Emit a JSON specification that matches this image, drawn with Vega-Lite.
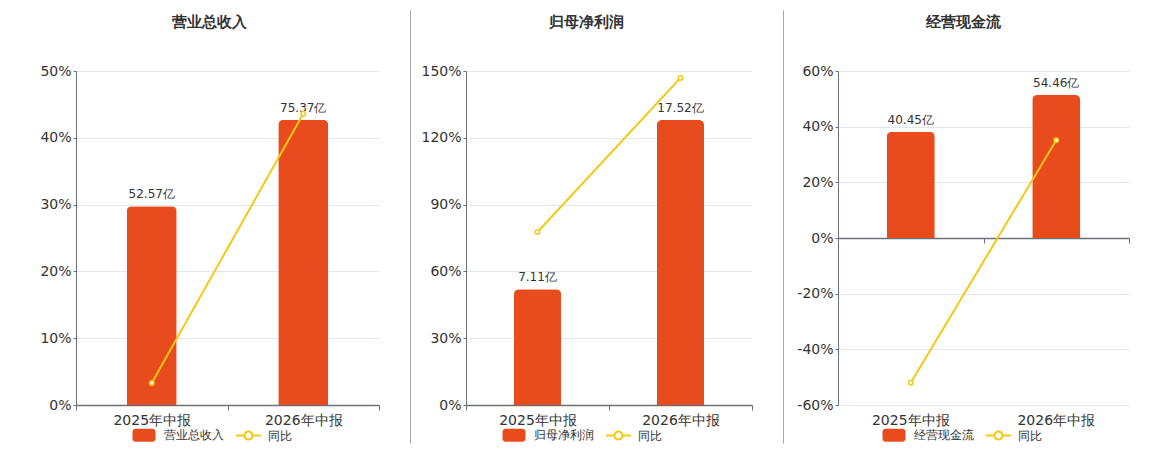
{
  "$schema": "https://vega.github.io/schema/vega-lite/v6.json",
  "padding": {"left": 39, "top": 10, "right": 0, "bottom": 0},
  "spacing": 0,
  "config": {
    "font": "DejaVu Sans",
    "view": {"stroke": null},
    "axis": {"labelFont": "DejaVu Sans", "labelFontSize": 14, "labelColor": "#333333", "titleFont": "DejaVu Sans"},
    "legend": {"labelFont": "DejaVu Sans", "labelFontSize": 12, "labelColor": "#333333"},
    "title": {"font": "DejaVu Sans", "fontSize": 15, "fontWeight": "bold", "color": "#333333", "frame": "bounds", "anchor": "middle", "offset": 34}
  },
  "resolve": {"scale": {"color": "independent"}, "legend": {"color": "independent"}},
  "hconcat": [
    {
      "width": 303, "height": 334,
      "title": "营业总收入",
      "data": {"values": [
        {"period": "2025年中报", "value": 52.57, "label": "52.57亿", "yoy": 3.3, "series": "营业总收入"},
        {"period": "2026年中报", "value": 75.37, "label": "75.37亿", "yoy": 43.6, "series": "营业总收入"}
      ]},
      "encoding": {
        "x": {"field": "period", "type": "nominal", "sort": null, "scale": {"paddingInner": 0, "paddingOuter": 0},
          "axis": {"title": null, "labelAngle": 0, "domainColor": "#6E7079", "domainWidth": 1.5, "tickBand": "extent", "tickColor": "#6E7079", "tickSize": 5, "labelPadding": 3}}
      },
      "layer": [
        {"mark": {"type": "bar", "width": {"band": 0.33}, "cornerRadiusTopLeft": 5, "cornerRadiusTopRight": 5},
         "encoding": {
           "y": {"field": "value", "type": "quantitative", "scale": {"domain": [0, 88.3], "nice": false}, "axis": null},
           "color": {"field": "series", "type": "nominal", "scale": {"domain": ["营业总收入", "同比"], "range": ["#E84C1C", "#F3C913"]},
             "legend": {"orient": "none", "legendX": 62, "legendY": 358, "direction": "horizontal", "title": null, "padding": 0, "labelOffset": 13.5, "columnPadding": 11.5,
               "encode": {"symbols": {"update": {
                 "shape": {"signal": "datum.value === '同比' ? 'M-2.5,-0.2H-0.95V0.2H-2.5ZM0.95,-0.2H2.5V0.2H0.95ZM-1,0A1,1 0 1 1 1,0A1,1 0 1 1 -1,0ZM-0.6,0A0.6,0.6 0 1 0 0.6,0A0.6,0.6 0 1 0 -0.6,0Z' : 'M-1.7,-1.3H1.7A0.6,0.6 0 0 1 2.3,-0.7V0.7A0.6,0.6 0 0 1 1.7,1.3H-1.7A0.6,0.6 0 0 1 -2.3,0.7V-0.7A0.6,0.6 0 0 1 -1.7,-1.3Z'"},
                 "strokeWidth": {"value": 0},
                 "opacity": {"value": 1}
               }}}}}
         }},
        {"mark": {"type": "text", "baseline": "bottom", "dy": -5, "fontSize": 12, "color": "#333333"},
         "encoding": {
           "y": {"field": "value", "type": "quantitative", "scale": {"domain": [0, 88.3], "nice": false}, "axis": null},
           "text": {"field": "label"}
         }},
        {"mark": {"type": "line", "color": "#F3C913", "strokeWidth": 2},
         "encoding": {
           "y": {"field": "yoy", "type": "quantitative", "scale": {"domain": [0, 50], "nice": false},
             "axis": {"title": null, "values": [0, 10, 20, 30, 40, 50], "labelExpr": "datum.value + '%'", "grid": true, "gridColor": "#E0E6F1", "domainColor": "#6E7079", "tickSize": 3, "tickColor": "#6E7079", "labelPadding": 2}}
         }},
        {"mark": {"type": "point", "shape": "circle", "filled": true, "fill": "#ffffff", "stroke": "#F3C913", "strokeWidth": 1.5, "size": 20, "opacity": 1},
         "encoding": {
           "y": {"field": "yoy", "type": "quantitative", "scale": {"domain": [0, 50], "nice": false}, "axis": null}
         }}
      ],
      "resolve": {"scale": {"y": "independent"}}
    },
    {
      "width": 40, "height": 334,
      "data": {"values": [{"v": 0}, {"v": 1}]},
      "mark": {"type": "rule", "opacity": 0},
      "encoding": {
        "y": {"field": "v", "type": "quantitative", "scale": {"domain": [0, 1], "nice": false, "range": [372, -61]},
          "axis": {"offset": -30, "labels": false, "ticks": false, "grid": false, "title": null, "domainColor": "#A6A6A6", "domainWidth": 1}}
      }
    },
    {
      "width": 286, "height": 334,
      "title": "归母净利润",
      "data": {"values": [
        {"period": "2025年中报", "value": 7.11, "label": "7.11亿", "yoy": 77.7, "series": "归母净利润"},
        {"period": "2026年中报", "value": 17.52, "label": "17.52亿", "yoy": 146.9, "series": "归母净利润"}
      ]},
      "encoding": {
        "x": {"field": "period", "type": "nominal", "sort": null, "scale": {"paddingInner": 0, "paddingOuter": 0},
          "axis": {"title": null, "labelAngle": 0, "domainColor": "#6E7079", "domainWidth": 1.5, "tickBand": "extent", "tickColor": "#6E7079", "tickSize": 5, "labelPadding": 3}}
      },
      "layer": [
        {"mark": {"type": "bar", "width": {"band": 0.33}, "cornerRadiusTopLeft": 5, "cornerRadiusTopRight": 5},
         "encoding": {
           "y": {"field": "value", "type": "quantitative", "scale": {"domain": [0, 20.53], "nice": false}, "axis": null},
           "color": {"field": "series", "type": "nominal", "scale": {"domain": ["归母净利润", "同比"], "range": ["#E84C1C", "#F3C913"]},
             "legend": {"orient": "none", "legendX": 42, "legendY": 358, "direction": "horizontal", "title": null, "padding": 0, "labelOffset": 13.5, "columnPadding": 11.5,
               "encode": {"symbols": {"update": {
                 "shape": {"signal": "datum.value === '同比' ? 'M-2.5,-0.2H-0.95V0.2H-2.5ZM0.95,-0.2H2.5V0.2H0.95ZM-1,0A1,1 0 1 1 1,0A1,1 0 1 1 -1,0ZM-0.6,0A0.6,0.6 0 1 0 0.6,0A0.6,0.6 0 1 0 -0.6,0Z' : 'M-1.7,-1.3H1.7A0.6,0.6 0 0 1 2.3,-0.7V0.7A0.6,0.6 0 0 1 1.7,1.3H-1.7A0.6,0.6 0 0 1 -2.3,0.7V-0.7A0.6,0.6 0 0 1 -1.7,-1.3Z'"},
                 "strokeWidth": {"value": 0},
                 "opacity": {"value": 1}
               }}}}}
         }},
        {"mark": {"type": "text", "baseline": "bottom", "dy": -5, "fontSize": 12, "color": "#333333"},
         "encoding": {
           "y": {"field": "value", "type": "quantitative", "scale": {"domain": [0, 20.53], "nice": false}, "axis": null},
           "text": {"field": "label"}
         }},
        {"mark": {"type": "line", "color": "#F3C913", "strokeWidth": 2},
         "encoding": {
           "y": {"field": "yoy", "type": "quantitative", "scale": {"domain": [0, 150], "nice": false},
             "axis": {"title": null, "values": [0, 30, 60, 90, 120, 150], "labelExpr": "datum.value + '%'", "grid": true, "gridColor": "#E0E6F1", "domainColor": "#6E7079", "tickSize": 3, "tickColor": "#6E7079", "labelPadding": 2}}
         }},
        {"mark": {"type": "point", "shape": "circle", "filled": true, "fill": "#ffffff", "stroke": "#F3C913", "strokeWidth": 1.5, "size": 20, "opacity": 1},
         "encoding": {
           "y": {"field": "yoy", "type": "quantitative", "scale": {"domain": [0, 150], "nice": false}, "axis": null}
         }}
      ],
      "resolve": {"scale": {"y": "independent"}}
    },
    {
      "width": 43, "height": 334,
      "data": {"values": [{"v": 0}, {"v": 1}]},
      "mark": {"type": "rule", "opacity": 0},
      "encoding": {
        "y": {"field": "v", "type": "quantitative", "scale": {"domain": [0, 1], "nice": false, "range": [372, -61]},
          "axis": {"offset": -30, "labels": false, "ticks": false, "grid": false, "title": null, "domainColor": "#A6A6A6", "domainWidth": 1}}
      }
    },
    {
      "width": 291, "height": 334,
      "title": "经营现金流",
      "data": {"values": [
        {"period": "2025年中报", "value": 40.45, "label": "40.45亿", "yoy": -52.0, "series": "经营现金流"},
        {"period": "2026年中报", "value": 54.46, "label": "54.46亿", "yoy": 35.1, "series": "经营现金流"}
      ]},
      "layer": [
        {"mark": {"type": "bar", "width": {"band": 0.33}, "cornerRadiusTopLeft": 5, "cornerRadiusTopRight": 5},
         "encoding": {
           "x": {"field": "period", "type": "nominal", "sort": null, "scale": {"paddingInner": 0, "paddingOuter": 0},
             "axis": {"title": null, "labelAngle": 0, "domain": false, "ticks": false, "labelPadding": 8, "orient": "bottom"}},
           "y": {"field": "value", "type": "quantitative", "scale": {"domain": [-63.6, 63.6], "nice": false}, "axis": null},
           "color": {"field": "series", "type": "nominal", "scale": {"domain": ["经营现金流", "同比"], "range": ["#E84C1C", "#F3C913"]},
             "legend": {"orient": "none", "legendX": 50, "legendY": 358, "direction": "horizontal", "title": null, "padding": 0, "labelOffset": 13.5, "columnPadding": 11.5,
               "encode": {"symbols": {"update": {
                 "shape": {"signal": "datum.value === '同比' ? 'M-2.5,-0.2H-0.95V0.2H-2.5ZM0.95,-0.2H2.5V0.2H0.95ZM-1,0A1,1 0 1 1 1,0A1,1 0 1 1 -1,0ZM-0.6,0A0.6,0.6 0 1 0 0.6,0A0.6,0.6 0 1 0 -0.6,0Z' : 'M-1.7,-1.3H1.7A0.6,0.6 0 0 1 2.3,-0.7V0.7A0.6,0.6 0 0 1 1.7,1.3H-1.7A0.6,0.6 0 0 1 -2.3,0.7V-0.7A0.6,0.6 0 0 1 -1.7,-1.3Z'"},
                 "strokeWidth": {"value": 0},
                 "opacity": {"value": 1}
               }}}}}
         }},
        {"mark": {"type": "text", "baseline": "bottom", "dy": -5, "fontSize": 12, "color": "#333333"},
         "encoding": {
           "x": {"field": "period", "type": "nominal", "sort": null, "axis": null},
           "y": {"field": "value", "type": "quantitative", "scale": {"domain": [-63.6, 63.6], "nice": false}, "axis": null},
           "text": {"field": "label"}
         }},
        {"mark": {"type": "line", "color": "#F3C913", "strokeWidth": 2},
         "encoding": {
           "x": {"field": "period", "type": "nominal", "sort": null,
             "axis": {"title": null, "orient": "bottom", "offset": -167, "labels": false, "grid": false, "domainColor": "#6E7079", "domainWidth": 1.5, "tickBand": "extent", "tickColor": "#6E7079", "tickSize": 5}},
           "y": {"field": "yoy", "type": "quantitative", "scale": {"domain": [-60, 60], "nice": false},
             "axis": {"title": null, "values": [-60, -40, -20, 0, 20, 40, 60], "labelExpr": "datum.value + '%'", "grid": true, "gridColor": "#E0E6F1", "domainColor": "#6E7079", "tickSize": 3, "tickColor": "#6E7079", "labelPadding": 2}}
         }},
        {"mark": {"type": "point", "shape": "circle", "filled": true, "fill": "#ffffff", "stroke": "#F3C913", "strokeWidth": 1.5, "size": 20, "opacity": 1},
         "encoding": {
           "x": {"field": "period", "type": "nominal", "sort": null, "axis": null},
           "y": {"field": "yoy", "type": "quantitative", "scale": {"domain": [-60, 60], "nice": false}, "axis": null}
         }}
      ],
      "resolve": {"scale": {"y": "independent"}, "axis": {"x": "independent"}}
    }
  ]
}
